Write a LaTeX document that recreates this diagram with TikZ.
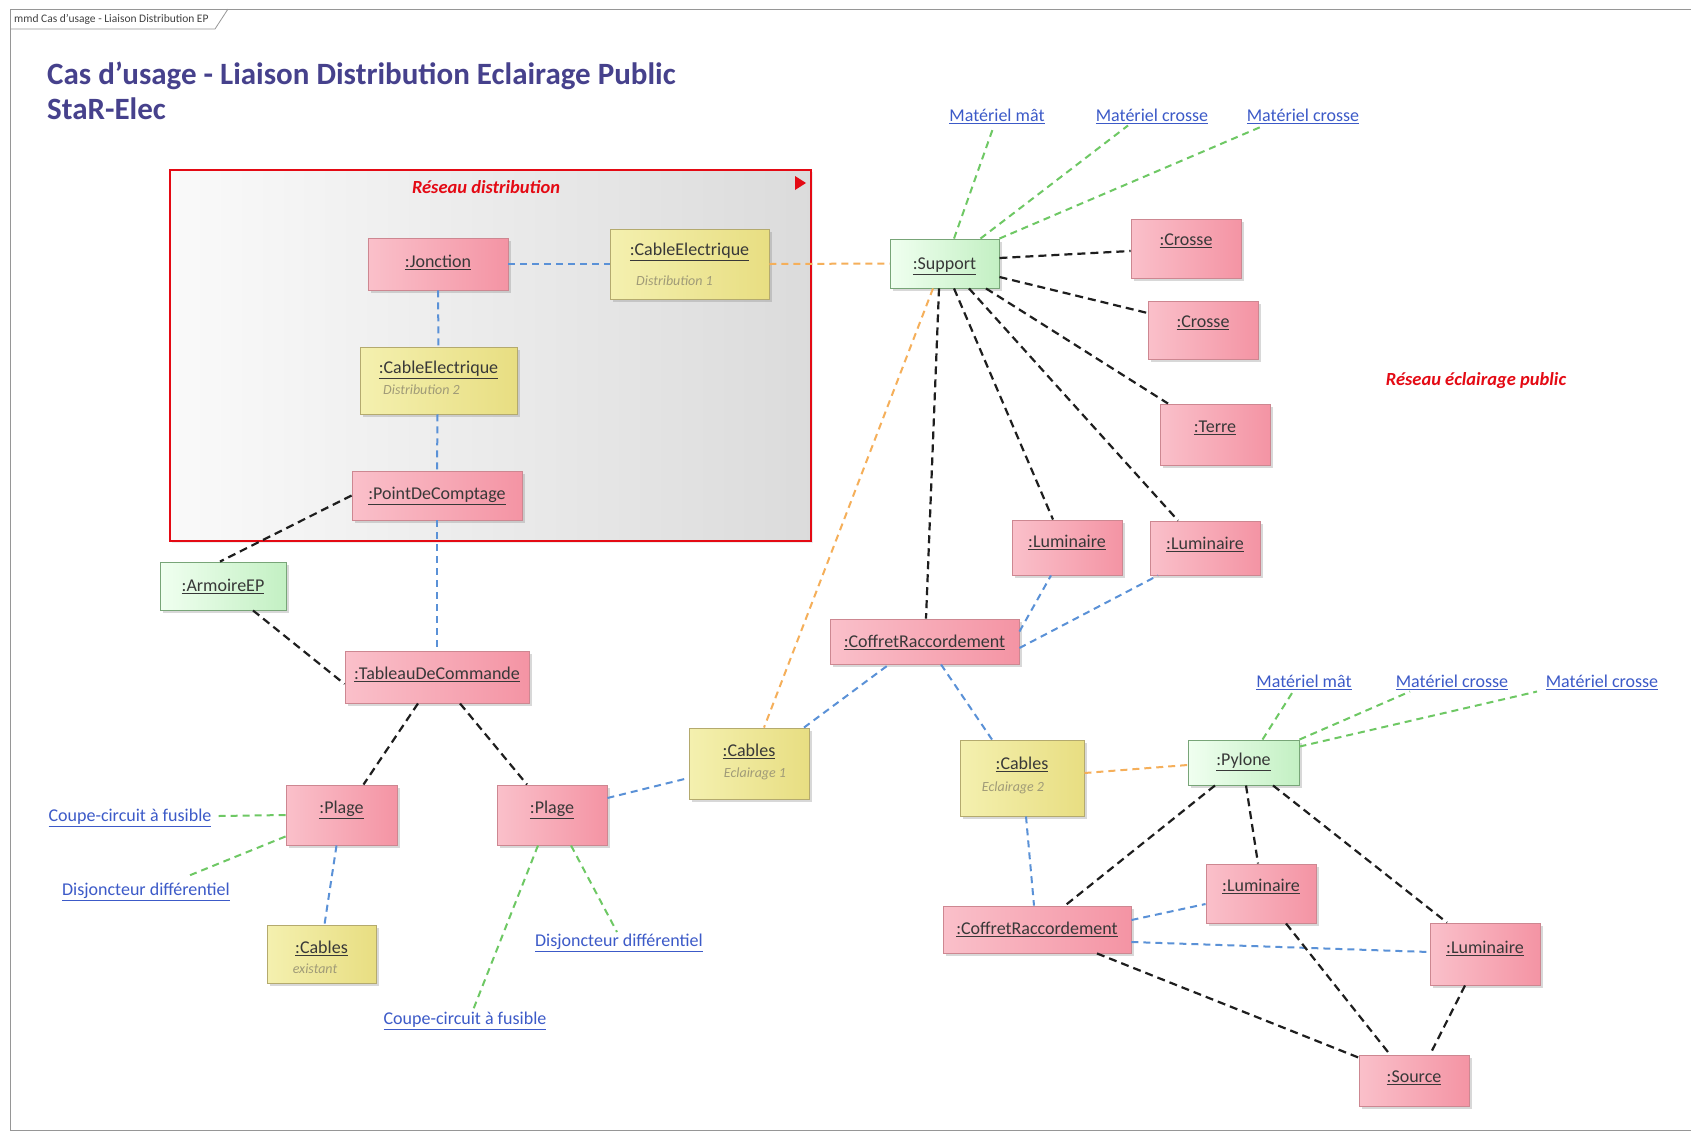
\documentclass[tikz,border=0pt]{standalone}
\usepackage{fontspec}
\setmainfont{Carlito}
\usetikzlibrary{shadows}
\definecolor{pinkL}{RGB}{250,192,202}
\definecolor{pinkR}{RGB}{244,148,164}
\definecolor{pinkB}{RGB}{205,135,145}
\definecolor{yelL}{RGB}{244,240,175}
\definecolor{yelR}{RGB}{232,222,130}
\definecolor{yelB}{RGB}{180,170,110}
\definecolor{grnL}{RGB}{240,255,240}
\definecolor{grnR}{RGB}{195,240,195}
\definecolor{grnB}{RGB}{120,165,120}
\definecolor{lnkC}{RGB}{60,90,200}
\definecolor{titC}{RGB}{70,65,140}
\definecolor{redC}{RGB}{228,10,20}
\definecolor{bluC}{RGB}{90,145,215}
\definecolor{grnC}{RGB}{110,200,100}
\definecolor{orgC}{RGB}{245,175,90}
\definecolor{blkC}{RGB}{30,30,30}
\definecolor{subC}{RGB}{160,155,120}
\definecolor{frmC}{RGB}{150,150,150}
\tikzset{
  obj/.style={draw, line width=0.9pt, inner sep=0pt, drop shadow={opacity=0.3, shadow xshift=3pt, shadow yshift=-3pt}},
  pk/.style={obj, draw=pinkB, left color=pinkL, right color=pinkR},
  yl/.style={obj, draw=yelB, left color=yelL, right color=yelR},
  gn/.style={obj, draw=grnB, left color=grnL, right color=grnR},
  lbl/.style={inner sep=0pt, text=black!78, font=\fontsize{18}{20}\selectfont},
  sublbl/.style={inner sep=0pt, text=subC, font=\fontsize{14}{16}\selectfont\itshape},
  lnk/.style={inner sep=2pt, text=lnkC, font=\fontsize{18}{20}\selectfont},
  redlbl/.style={inner sep=0pt, text=redC, font=\fontsize{18.5}{20}\selectfont\bfseries\itshape},
  ttl/.style={inner sep=0pt, anchor=west, text=titC, font=\fontsize{31}{35}\selectfont\bfseries},
  cblk/.style={draw=blkC, line width=2.2pt, dash pattern=on 8pt off 5pt},
  cblu/.style={draw=bluC, line width=2pt, dash pattern=on 7pt off 5pt},
  cgrn/.style={draw=grnC, line width=2pt, dash pattern=on 7pt off 5pt},
  corg/.style={draw=orgC, line width=2pt, dash pattern=on 7pt off 5pt},
}
\newcommand\objbox[8]{%
  \node[#2, minimum width={#5pt-#3pt}, minimum height={#6pt-#4pt}] (#1) at ({(#3+#5)/2},{(#4+#6)/2}) {};
  \node[lbl] (#1t) at ([yshift=-#7pt-2.5pt]#1.north) {\underline{#8}};
}
\begin{document}
\begin{tikzpicture}[x=1pt,y=-1pt]
\useasboundingbox (0,0) rectangle (1691,1136);
\fill[white] (0,0) rectangle (1691,1136);
% frame
\draw[frmC, line width=1pt] (1700,1130) -- (10,1130) -- (10,9) -- (1700,9);
\draw[frmC, line width=0.8pt] (10,29) -- (215,29) -- (228,9);
\node[anchor=west, inner sep=0pt, font=\fontsize{11.5}{13}\selectfont, text=black!75] (frl) at (14,19.5) {mmd Cas d'usage - Liaison Distribution EP};
% title
\node[ttl] (t1) at (47,76) {Cas d'usage - Liaison Distribution Eclairage Public};
\node[ttl] (t2) at (47,109) {StaR-Elec};
% container
\node[draw=redC, line width=2.5pt, left color=gray!4, right color=gray!28, minimum width=641pt, minimum height=371pt, inner sep=0pt, drop shadow={opacity=0.15, shadow xshift=2pt, shadow yshift=-2pt}] (rd) at (490.5,355.5) {};
\node[redlbl] (rdl) at (486,187) {Réseau distribution};
\fill[redC] (795,176) -- (806,183) -- (795,190) -- cycle;
\node[redlbl] (epl) at (1476,381) {Réseau éclairage public};
% objects
\objbox{jon}{pk}{368}{238}{508}{290}{22}{:Jonction}
\objbox{ce1}{yl}{610}{229}{769}{299}{21}{:CableElectrique}
\objbox{ce2}{yl}{360}{347}{517}{414}{21}{:CableElectrique}
\objbox{pdc}{pk}{352}{471}{522}{520}{23}{:PointDeComptage}
\objbox{arm}{gn}{160}{562}{286}{610}{22}{:ArmoireEP}
\objbox{tab}{pk}{345}{651}{529}{703}{21}{:TableauDeCommande}
\objbox{pl1}{pk}{286}{785}{397}{845}{23}{:Plage}
\objbox{pl2}{pk}{497}{785}{607}{845}{23}{:Plage}
\objbox{cex}{yl}{267}{925}{376}{983}{21}{:Cables}
\objbox{cb1}{yl}{689}{728}{809}{799}{21}{:Cables}
\objbox{sup}{gn}{890}{239}{999}{288}{25}{:Support}
\objbox{cr1}{pk}{1131}{219}{1241}{278}{20}{:Crosse}
\objbox{cr2}{pk}{1148}{301}{1258}{359}{20}{:Crosse}
\objbox{ter}{pk}{1160}{404}{1270}{465}{22}{:Terre}
\objbox{lu1}{pk}{1012}{520}{1122}{575}{20}{:Luminaire}
\objbox{lu2}{pk}{1150}{521}{1260}{575}{21}{:Luminaire}
\objbox{co1}{pk}{830}{619}{1019}{664}{21}{:CoffretRaccordement}
\objbox{cb2}{yl}{960}{740}{1084}{816}{22}{:Cables}
\objbox{pyl}{gn}{1188}{740}{1299}{785}{20}{:Pylone}
\objbox{lu3}{pk}{1206}{864}{1316}{923}{20}{:Luminaire}
\objbox{co2}{pk}{943}{906}{1131}{953}{21}{:CoffretRaccordement}
\objbox{lu4}{pk}{1430}{923}{1540}{985}{23}{:Luminaire}
\objbox{src}{pk}{1359}{1055}{1469}{1106}{21}{:Source}
% subtitles
\node[sublbl, anchor=west] (ce1s) at (636,281) {Distribution 1};
\node[sublbl, anchor=west] (ce2s) at (383,390) {Distribution 2};
\node[sublbl] (cb1s) at (755,774) {Eclairage 1};
\node[sublbl] (cb2s) at (1013,788) {Eclairage 2};
\node[sublbl] (cexs) at (315,969) {existant};
% link labels
\node[lnk] (mm1) at (997,116) {\underline{Matériel mât}};
\node[lnk] (mc1) at (1152,116) {\underline{Matériel crosse}};
\node[lnk] (mc2) at (1303,116) {\underline{Matériel crosse}};
\node[lnk] (cc1) at (130,818) {\underline{Coupe-circuit à fusible}};
\node[lnk] (dj1) at (146,892) {\underline{Disjoncteur différentiel}};
\node[lnk] (dj2) at (619,943) {\underline{Disjoncteur différentiel}};
\node[lnk] (cc2) at (465,1021) {\underline{Coupe-circuit à fusible}};
\node[lnk] (mm2) at (1304,682) {\underline{Matériel mât}};
\node[lnk] (mc3) at (1452,682) {\underline{Matériel crosse}};
\node[lnk] (mc4) at (1602,682) {\underline{Matériel crosse}};
% blue connectors
\draw[cblu] (jon.east) -- (ce1.west);
\draw[cblu] (jon.south) -- (ce2.north);
\draw[cblu] ([xshift=-1pt]ce2.south) -- (pdc.north);
\draw[cblu] (pdc.south) -- (tab.north);
\draw[cblu] ([xshift=-5pt]pl1.south) -- ([xshift=3pt]cex.north);
\draw[cblu] ([yshift=17pt]pl2.east) -- ([yshift=-14.5pt]cb1.west);
\draw[cblu] ([xshift=55pt]cb1.north) -- ([xshift=-35.5pt]co1.south);
\draw[cblu] ([yshift=10pt]co1.east) -- ([xshift=-16pt]lu1.south);
\draw[cblu] ([yshift=-6.5pt]co1.east) -- ([xshift=-47pt]lu2.south);
\draw[cblu] ([xshift=16.5pt]co1.south) -- ([xshift=-30pt]cb2.north);
\draw[cblu] ([xshift=4pt]cb2.south) -- ([xshift=-3pt]co2.north);
\draw[cblu] ([yshift=9.5pt]co2.east) -- ([yshift=-10.5pt]lu3.west);
\draw[cblu] ([yshift=-12.5pt]co2.east) -- ([yshift=2pt]lu4.west);
% orange connectors
\draw[corg] (ce1.east) -- (sup.west);
\draw[corg] ([xshift=-11.5pt]sup.south) -- ([xshift=15pt]cb1.north);
\draw[corg] ([yshift=5pt]cb2.east) -- ([yshift=-2.5pt]pyl.west);
% black connectors
\draw[cblk] (pdc.west) -- ([xshift=-3pt]arm.north);
\draw[cblk] ([xshift=30pt]arm.south) -- ([yshift=-7pt]tab.west);
\draw[cblk] ([xshift=-19pt]tab.south) -- ([xshift=22pt]pl1.north);
\draw[cblk] ([xshift=23pt]tab.south) -- ([xshift=-25pt]pl2.north);
\draw[cblk] ([yshift=5.5pt]sup.east) -- ([yshift=-2.5pt]cr1.west);
\draw[cblk] ([yshift=-13.5pt]sup.east) -- ([yshift=17pt]cr2.west);
\draw[cblk] ([xshift=41.5pt]sup.south) -- ([xshift=-47pt]ter.north);
\draw[cblk] ([xshift=9.5pt]sup.south) -- ([xshift=-14pt]lu1.north);
\draw[cblk] ([xshift=24.5pt]sup.south) -- ([xshift=-27pt]lu2.north);
\draw[cblk] ([xshift=-5.5pt]sup.south) -- ([xshift=1.5pt]co1.north);
\draw[cblk] ([xshift=-28.5pt]pyl.south) -- ([xshift=28pt]co2.north);
\draw[cblk] ([xshift=2.5pt]pyl.south) -- ([xshift=-3pt]lu3.north);
\draw[cblk] ([xshift=29.5pt]pyl.south) -- ([xshift=-38pt]lu4.north);
\draw[cblk] ([xshift=60pt]co2.south) -- ([yshift=-3pt]src.north west);
\draw[cblk] ([xshift=25pt]lu3.south) -- ([xshift=-24pt]src.north);
\draw[cblk] ([xshift=-20pt]lu4.south) -- ([xshift=16pt]src.north);
% green connectors
\draw[cgrn] ([xshift=9.5pt]sup.north) -- ([xshift=-3pt]mm1.south);
\draw[cgrn] ([xshift=36pt]sup.north) -- ([xshift=-24pt]mc1.south);
\draw[cgrn] (sup.north east) -- ([xshift=-39pt]mc2.south);
\draw[cgrn] (pl1.west) -- ([xshift=5pt,yshift=2pt]cc1.east);
\draw[cgrn] ([yshift=9pt]pl1.south west) -- ([xshift=42pt,yshift=5pt]dj1.north);
\draw[cgrn] ([xshift=-14pt]pl2.south) -- ([xshift=8pt]cc2.north);
\draw[cgrn] ([xshift=19pt]pl2.south) -- ([xshift=-2pt]dj2.north);
\draw[cgrn] ([xshift=19pt]pyl.north) -- ([xshift=-11pt]mm2.south);
\draw[cgrn] (pyl.north east) -- ([xshift=-42pt]mc3.south);
\draw[cgrn] ([yshift=-7pt]pyl.north east) -- ([xshift=-65pt]mc4.south);
\end{tikzpicture}
\end{document}
